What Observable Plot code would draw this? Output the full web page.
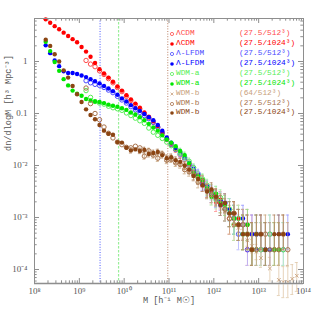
<!DOCTYPE html>
<html><head><meta charset="utf-8">
<script src="https://cdn.jsdelivr.net/npm/d3@7"></script>
<script src="https://cdn.jsdelivr.net/npm/@observablehq/plot@0.6"></script>
<style>
body{margin:0;background:#fff;}
#wrap{position:relative;width:319px;height:319px;overflow:hidden;}
#legend{position:absolute;left:168px;top:29.3px;font-family:"Liberation Mono",monospace;font-size:7.8px;}
.row{position:relative;height:9.9px;white-space:nowrap;}
.row svg{position:absolute;left:0;top:1px;}
.nm{position:absolute;left:8px;top:0;line-height:9.9px;}
.val{position:absolute;left:71px;top:0;line-height:9.9px;}
</style></head>
<body><div id="wrap"><div id="legend"></div></div>
<script>
// log10 of halo mass bin centres [h^-1 Msun]
const massBins = [8.25,8.35,8.45,8.55,8.65,8.75,8.85,8.95,9.05,9.15,9.25,9.35,9.45,9.55,9.65,9.75,9.85,9.95,10.05,10.15,10.25,10.35,10.45,10.55,10.65,10.75,10.85,10.95,11.05,11.15,11.25,11.35,11.45,11.55,11.65,11.75,11.85,11.95,12.05,12.15,12.25,12.35,12.45,12.55,12.65,12.75,12.85,12.95,13.05,13.15,13.25,13.35,13.45,13.55,13.65,13.75,13.85,13.95];
// log10 dn/dlogM per series (null = no halos)
const lcdm512 = [null,null,null,null,null,null,null,null,null,
 0.02,-0.05,-0.1,-0.18,-0.25,-0.33,-0.41,-0.5,-0.58,
 -0.67,-0.75,-0.83,-0.91,-1.0,-1.08,-1.17,-1.27,-1.38,
 -1.5,-1.6,-1.7,-1.8,-1.88,-1.97,-2.12,-2.2,-2.38,
 -2.42,-2.58,-2.6,-2.76,-2.84,-3.02,-2.92,-3.14,-3.14,
 -3.62,-3.32,null,-3.62,-3.62,null,null,null,null,null,null,null,null];
const lcdm1024 = [0.81,0.745,0.68,0.62,0.555,0.49,0.43,0.37,0.28,
 0.19,0.09,-0.03,-0.15,-0.23,-0.31,-0.39,-0.48,-0.56,
 -0.65,-0.73,-0.81,-0.89,-0.98,-1.06,-1.15,-1.24,-1.36,
 -1.48,-1.58,-1.68,-1.77,-1.85,-1.99,-2.08,-2.25,-2.30,
 -2.48,-2.50,-2.70,-2.66,-2.84,-2.92,-3.14,-3.02,-3.32,
 -3.14,-3.62,-3.32,null,-3.62,null,null,-3.62,null,null,null,null,null];
const lfdm512 = [null,null,null,null,null,null,null,null,null,
 -0.37,-0.41,-0.44,-0.46,-0.50,-0.55,-0.60,-0.67,-0.74,
 -0.80,-0.87,-0.93,-0.98,-1.04,-1.10,-1.17,-1.26,-1.37,
 -1.49,-1.59,-1.69,-1.78,-1.86,-2.0,-2.1,-2.16,-2.32,
 -2.46,-2.52,-2.62,-2.76,-2.72,-2.92,-3.02,-3.32,-3.14,
 -3.62,-3.62,-3.32,-3.62,-3.62,-3.32,null,null,-3.62,null,null,null,null];
const lfdm1024 = [0.31,0.16,0.02,-0.09,-0.19,-0.22,-0.22,-0.24,-0.27,
 -0.30,-0.34,-0.38,-0.42,-0.47,-0.52,-0.57,-0.64,-0.71,
 -0.77,-0.84,-0.90,-0.95,-1.01,-1.07,-1.13,-1.22,-1.33,
 -1.46,-1.56,-1.66,-1.74,-1.84,-1.95,-2.06,-2.18,-2.36,
 -2.40,-2.56,-2.64,-2.68,-2.84,-2.84,-3.02,-3.14,-3.02,
 -3.32,-3.32,-3.62,-3.32,null,-3.62,null,-3.32,null,-3.32,null,null,null];
const wdma512 = [null,null,null,null,null,null,null,null,null,
 -0.56,-0.69,-0.77,-0.80,-0.82,-0.86,-0.89,-0.91,-0.94,
 -0.99,-1.04,-1.09,-1.14,-1.19,-1.28,-1.36,-1.42,-1.48,
 -1.55,-1.62,-1.68,-1.76,-1.84,-1.92,-2.04,-2.24,-2.26,
 -2.38,-2.5,-2.66,-2.62,-2.84,-2.84,-3.14,-3.02,-3.32,
 -3.32,-3.62,-3.62,-3.62,null,-3.32,-3.62,null,-3.62,null,null,null,null];
const wdma1024 = [0.38,0.20,-0.01,-0.18,-0.34,-0.46,-0.56,-0.62,-0.66,
 -0.72,-0.75,-0.77,-0.78,-0.80,-0.83,-0.85,-0.87,-0.90,
 -0.93,-0.98,-1.02,-1.07,-1.13,-1.20,-1.27,-1.33,-1.42,
 -1.50,-1.56,-1.63,-1.72,-1.80,-1.96,-2.14,-2.2,-2.28,
 -2.44,-2.6,-2.54,-2.72,-2.76,-2.92,-3.02,-3.14,-3.32,
 -3.14,-3.62,-3.32,null,-3.62,null,-3.62,-3.62,null,null,null,null,null];
const wdmb64 = [null,null,null,null,null,null,null,null,null,
 null,null,null,null,null,null,null,null,null,
 null,null,null,null,null,null,null,null,null,
 -1.84,-1.9,-1.94,-2.0,-2.06,-2.12,-2.2,-2.3,-2.38,
 -2.48,-2.58,-2.68,-2.78,-2.88,-2.98,-3.08,-3.2,-3.32,
 -3.44,-3.55,-3.66,-3.78,null,-3.98,null,-4.2,-4.24,-4.24,-4.18,-4.12,null];
const wdmb512 = [null,null,null,null,null,null,null,null,null,
 -0.51,-0.81,-1.0,-1.12,-1.26,-1.38,-1.47,-1.55,-1.6,
 -1.65,-1.66,-1.63,-1.66,-1.82,-1.72,-1.8,-1.86,-1.78,
 -1.9,-1.88,-1.95,-1.98,-2.08,-2.12,-2.18,-2.32,-2.3,
 -2.48,-2.56,-2.62,-2.72,-2.84,-3.02,-2.92,-3.14,-3.14,
 -3.32,-3.62,-3.62,-3.32,-3.32,-3.62,-3.62,-3.62,-3.32,-3.62,null,null,null];
const wdmb1024 = [0.42,0.30,0.14,0.0,-0.17,-0.31,-0.47,-0.63,-0.78,
 -0.92,-1.03,-1.11,-1.22,-1.33,-1.39,-1.41,-1.55,-1.56,
 -1.66,-1.71,-1.69,-1.72,-1.70,-1.78,-1.76,-1.74,-1.80,
 -1.86,-1.84,-1.90,-1.93,-2.0,-2.08,-2.2,-2.26,-2.38,
 -2.5,-2.46,-2.6,-2.76,-2.72,-2.92,-2.92,-3.14,-3.32,
 -3.32,-3.62,-3.32,-3.32,-3.62,null,-3.32,-3.32,-3.32,null,null,null,null];

const seriesNames = ["ΛCDM","ΛCDM","Λ-LFDM","Λ-LFDM","WDM-a","WDM-a","WDM-b","WDM-b","WDM-b"];
const seriesRuns = ["(27.5/512³)","(27.5/1024³)","(27.5/512³)","(27.5/1024³)","(27.5/512³)","(27.5/1024³)","(64/512³)","(27.5/512³)","(27.5/1024³)"];
const seriesBox = [27.5,27.5,27.5,27.5,27.5,27.5,64,27.5,27.5];
const seriesValues = [lcdm512,lcdm1024,lfdm512,lfdm1024,wdma512,wdma1024,wdmb64,wdmb512,wdmb1024];
const seriesColors = ["#ff4a4a","#ff0000","#4a4aff","#0000ff","#55ee55","#00e600","#c8a07c","#a8724c","#8b4513"];
const seriesBarColors = ["#ffa8a8","#ff8c8c","#b0b0ff","#9898ff","#b0f5b0","#8ce88c","#e0c8a8","#c8a47c","#b08460"];
const seriesSymbols = ["open","filled","open","filled","open","filled","cross","open","filled"];

const cutoffMasses = [2.9e9, 7.5e9, 9.4e10];
const cutoffColors = ["#3344ff","#99ee99","#b07050"];
const cutoffDash = ["1,1.6","2.5,1.5","1,1.6"];

const xTicks = [1e8,1e9,1e10,1e11,1e12,1e13,1e14];
const xTickLabels = ["10⁸","10⁹","10¹⁰","10¹¹","10¹²","10¹³","10¹⁴"];
const yTicks = [1e-4,1e-3,1e-2,0.1,1];
const yTickLabels = ["10⁻⁴","10⁻³","10⁻²","0.1","1"];
const xLabel = "M [h⁻¹ M☉]";
const yLabel = "dn/dlogM [h³ Mpc⁻³]";

// build table (Poisson error bars from counts per bin)
const K0 = 4169;
const rows = [];
seriesValues.forEach((vals, s) => {
  const K = K0 * Math.pow(seriesBox[s] / 27.5, 3);
  vals.forEach((v, i) => {
    if (v === null) return;
    const n = Math.pow(10, v), N = n * K;
    const hi = n * (N + Math.sqrt(N + 0.75) + 1) / N;
    const lo = n * Math.max(N - Math.sqrt(N), 0.5 * N) / N;
    rows.push({s, M: Math.pow(10, massBins[i]), n, hi, lo});
  });
});

const W = 319, H = 319, mL = 34, mR = 16, mT = 18, mB = 36;
const innerH = H - mT - mB, innerW = W - mL - mR;
const xMinor = [], yMinor = [];
for (let e = 8; e < 14; e++) for (let k = 2; k <= 9; k++) xMinor.push(k * Math.pow(10, e));
for (let e = -5; e < 1; e++) for (let k = 2; k <= 9; k++) { const v = k * Math.pow(10, e); if (v > 5.38e-5 && v < 6.71) yMinor.push(v); }

const marks = [];
cutoffMasses.forEach((m, j) => marks.push(Plot.ruleX([m], {stroke: cutoffColors[j], strokeWidth: j === 1 ? 1.2 : 0.9, strokeDasharray: cutoffDash[j]})));
seriesValues.forEach((_, s) => {
  const d = rows.filter(r => r.s === s);
  const bars = d.filter(r => Math.log10(r.hi / r.n) > 0.05);
  marks.push(Plot.ruleX(bars, {x: "M", y1: "lo", y2: "hi", stroke: seriesBarColors[s], strokeWidth: 0.8}));
  marks.push(Plot.ruleY(bars, {y: "hi", x1: r => r.M / 1.08, x2: r => r.M * 1.08, stroke: seriesBarColors[s], strokeWidth: 0.8}));
  marks.push(Plot.ruleY(bars, {y: "lo", x1: r => r.M / 1.08, x2: r => r.M * 1.08, stroke: seriesBarColors[s], strokeWidth: 0.8}));
  if (seriesSymbols[s] === "filled") marks.push(Plot.dot(d, {x: "M", y: "n", r: 2.2, fill: seriesColors[s], stroke: "none"}));
  else if (seriesSymbols[s] === "open") marks.push(Plot.dot(d, {x: "M", y: "n", r: 2.2, fill: "none", stroke: seriesColors[s], strokeWidth: 1}));
  else marks.push(Plot.dot(d, {x: "M", y: "n", r: 1.8, symbol: "times", stroke: seriesColors[s], strokeWidth: 0.9}));
});
marks.push(Plot.ruleY([5.38e-5], {stroke: "#c4c4c4", strokeWidth: 2}));
marks.push(Plot.frame({stroke: "#8e8e8e", strokeWidth: 1}));
const tk = "#8e8e8e";
marks.push(Plot.tickX(xTicks, {x: d => d, insetTop: innerH - 5, stroke: tk}));
marks.push(Plot.tickX(xTicks, {x: d => d, insetBottom: innerH - 5, stroke: tk}));
marks.push(Plot.tickX(xMinor, {x: d => d, insetTop: innerH - 2.7, stroke: tk}));
marks.push(Plot.tickX(xMinor, {x: d => d, insetBottom: innerH - 2.7, stroke: tk}));
marks.push(Plot.tickY(yTicks, {y: d => d, insetRight: innerW - 5, stroke: tk}));
marks.push(Plot.tickY(yTicks, {y: d => d, insetLeft: innerW - 5, stroke: tk}));
marks.push(Plot.tickY(yMinor, {y: d => d, insetRight: innerW - 2.7, stroke: tk}));
marks.push(Plot.tickY(yMinor, {y: d => d, insetLeft: innerW - 2.7, stroke: tk}));
marks.push(Plot.axisX({ticks: xTicks, tickFormat: d => xTickLabels[xTicks.indexOf(d)], tickSize: 0, tickPadding: 4, label: null, fontFamily: "Liberation Serif", fontSize: 9, color: "#555"}));
marks.push(Plot.axisY({ticks: yTicks, tickFormat: d => yTickLabels[yTicks.indexOf(d)], tickSize: 0, tickPadding: 7, label: null, fontFamily: "Liberation Serif", fontSize: 9, color: "#555"}));
marks.push(Plot.text([xLabel], {text: d => d, frameAnchor: "bottom", dy: 17, fontFamily: "Liberation Mono", fontSize: 8.6, fill: "#555", lineAnchor: "middle"}));
marks.push(Plot.text([yLabel], {text: d => d, frameAnchor: "left", dx: -26, rotate: -90, fontFamily: "Liberation Mono", fontSize: 8.6, fill: "#555", lineAnchor: "middle"}));

const chart = Plot.plot({
  width: W, height: H, marginLeft: mL, marginRight: mR, marginTop: mT, marginBottom: mB,
  x: {type: "log", domain: [1e8, 1e14]},
  y: {type: "log", domain: [5.38e-5, 6.71]},
  style: {background: "#fff"},
  marks
});
document.getElementById("wrap").prepend(chart);

const leg = document.getElementById("legend");
seriesNames.forEach((name, s) => {
  const row = document.createElement("div");
  row.className = "row";
  const c = seriesColors[s];
  let sym;
  if (seriesSymbols[s] === "filled") sym = `<circle cx="4" cy="4" r="1.8" fill="${c}"/>`;
  else if (seriesSymbols[s] === "open") sym = `<circle cx="4" cy="4" r="1.6" fill="none" stroke="${c}" stroke-width="0.8"/>`;
  else sym = `<path d="M2.6,2.6L5.4,5.4M2.6,5.4L5.4,2.6" stroke="${c}" stroke-width="0.8"/>`;
  row.innerHTML = `<svg width="8" height="8">${sym}</svg><span class="nm" style="color:${c}">${name}</span><span class="val" style="color:${c}">${seriesRuns[s]}</span>`;
  leg.appendChild(row);
});
</script>
</body></html>
